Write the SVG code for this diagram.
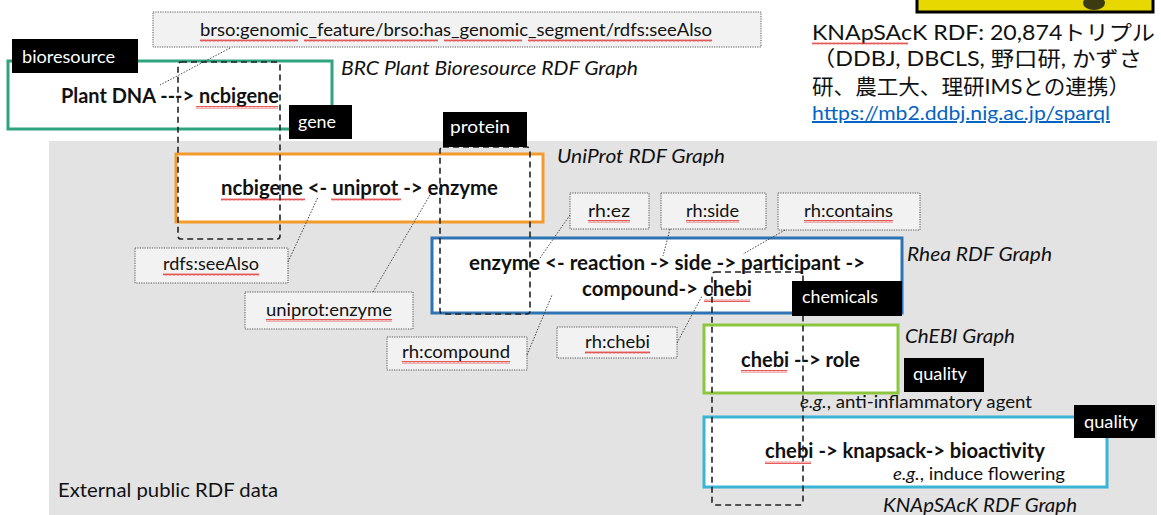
<svg xmlns="http://www.w3.org/2000/svg" width="1161" height="515" viewBox="0 0 1161 515">
<defs>
<pattern id="sq" width="4" height="3" patternUnits="userSpaceOnUse">
<path d="M0 2.5 L1 0.5 L2 2.5 L3 0.5 L4 2.5" fill="none" stroke="#e03030" stroke-width="0.8"/>
</pattern>
</defs>
<style>
text{font-family:Lato,"Open Sans","Noto Sans",sans-serif;fill:#111}
.t{font-size:18px}
.b{font-size:20px;font-weight:bold}
.i{font-size:19px;font-style:italic}
.lab{fill:#000}
.lt{font-size:18px;fill:#fff}
.dot{fill:#f2f2f2;stroke:#555;stroke-width:1;stroke-dasharray:1.2 1.2}
.con{fill:none;stroke:#444;stroke-width:1;stroke-dasharray:1.5 1.5}
.dash{fill:none;stroke:#222;stroke-width:1.6;stroke-dasharray:6 4}
.box{fill:#fff;stroke-width:3}
.sq{fill:url(#sq)}
.cjk{font-family:Lato,"Noto Sans CJK JP",sans-serif;font-size:21px}
</style>
<rect id="bg" x="49" y="141" width="1108" height="374" fill="#e3e3e3"/>
<g id="yellow">
<rect x="917" y="-4" width="236" height="16" fill="#e6d800"/>
<ellipse cx="1094" cy="3" rx="11" ry="7" fill="#3b3a10"/>
<rect x="917" y="-4" width="236" height="16" fill="none" stroke="#000" stroke-width="3"/>
</g>
<g id="info">
<text class="cjk" x="812" y="40" textLength="343" lengthAdjust="spacingAndGlyphs">KNApSAcK RDF: 20,874トリプル</text>
<text class="cjk" x="812" y="66" textLength="330" lengthAdjust="spacingAndGlyphs">（DDBJ, DBCLS, 野口研, かずさ</text>
<text class="cjk" x="812" y="94" textLength="318" lengthAdjust="spacingAndGlyphs">研、農工大、理研IMSとの連携）</text>
<text x="812" y="120" style="font-size:20px;fill:#0563c1;text-decoration:underline" textLength="298" lengthAdjust="spacingAndGlyphs">https://mb2.ddbj.nig.ac.jp/sparql</text>
<rect class="sq" x="812" y="42" width="96" height="3"/>
</g>
<g id="brc">
<rect class="box" x="8" y="61" width="324" height="68" stroke="#2ea37f"/>
<text class="b" x="61" y="103" textLength="218" lengthAdjust="spacingAndGlyphs">Plant DNA ---&gt; ncbigene</text>
<rect class="sq" x="196" y="106" width="82" height="3"/>
<text class="i" x="341" y="75" textLength="297" lengthAdjust="spacingAndGlyphs">BRC Plant Bioresource RDF Graph</text>
</g>
<g id="uniprot">
<rect class="box" x="176" y="154" width="367" height="68" stroke="#f39c2c"/>
<text class="b" x="221" y="195" textLength="277" lengthAdjust="spacingAndGlyphs">ncbigene &lt;- uniprot -&gt; enzyme</text>
<rect class="sq" x="221" y="198" width="84" height="3"/>
<rect class="sq" x="331" y="198" width="70" height="3"/>
<text class="i" x="557" y="163" textLength="168" lengthAdjust="spacingAndGlyphs">UniProt RDF Graph</text>
</g>
<g id="rhea">
<rect class="box" x="432" y="238" width="470" height="75" stroke="#2e74b5"/>
<text class="b" x="469" y="270" textLength="396" lengthAdjust="spacingAndGlyphs">enzyme &lt;- reaction -&gt; side -&gt; participant  -&gt;</text>
<text class="b" x="582" y="296" textLength="170" lengthAdjust="spacingAndGlyphs">compound-&gt; chebi</text>
<rect class="sq" x="704" y="299" width="46" height="3"/>
<text class="i" x="907" y="261" textLength="145" lengthAdjust="spacingAndGlyphs">Rhea RDF Graph</text>
</g>
<g id="chebi">
<rect class="box" x="704" y="325" width="194" height="68" stroke="#8cc63e"/>
<text class="b" x="741" y="367" textLength="119" lengthAdjust="spacingAndGlyphs">chebi --&gt; role</text>
<rect class="sq" x="741" y="370" width="46" height="3"/>
<text class="i" x="905" y="343" textLength="110" lengthAdjust="spacingAndGlyphs">ChEBI Graph</text>
<text class="t" x="800" y="408" textLength="232" lengthAdjust="spacingAndGlyphs"><tspan font-style="italic">e.g.</tspan>, anti-inflammatory agent</text>
</g>
<g id="knapsack">
<rect class="box" x="704" y="417" width="403" height="70" stroke="#3cb4d4"/>
<text class="b" x="765" y="458" textLength="280" lengthAdjust="spacingAndGlyphs">chebi -&gt; knapsack-&gt; bioactivity</text>
<rect class="sq" x="765" y="461" width="46" height="3"/>
<text class="t" x="893" y="480" textLength="172" lengthAdjust="spacingAndGlyphs"><tspan font-style="italic">e.g.</tspan>, induce flowering</text>
<text class="i" x="883" y="512" textLength="194" lengthAdjust="spacingAndGlyphs">KNApSAcK RDF Graph</text>
</g>
<text id="external" x="58" y="497" style="font-size:19px" textLength="220" lengthAdjust="spacingAndGlyphs">External public RDF data</text>
<g id="lbl-brso">
<rect class="dot" x="153" y="12" width="608" height="35"/>
<text class="t" x="200" y="36" textLength="512" lengthAdjust="spacingAndGlyphs">brso:genomic_feature/brso:has_genomic_segment/rdfs:seeAlso</text>
<rect class="sq" x="200" y="39" width="98" height="3"/>
<rect class="sq" x="304" y="39" width="134" height="3"/>
<rect class="sq" x="444" y="39" width="78" height="3"/>
<rect class="sq" x="528" y="39" width="184" height="3"/>
</g>
<g id="lbl-seealso">
<rect class="dot" x="135" y="248" width="153" height="35"/>
<text class="t" x="163" y="270" textLength="96" lengthAdjust="spacingAndGlyphs">rdfs:seeAlso</text>
<rect class="sq" x="163" y="273" width="96" height="3"/>
</g>
<g id="lbl-upenzyme">
<rect class="dot" x="245" y="292" width="168" height="37"/>
<text class="t" x="266" y="316" textLength="126" lengthAdjust="spacingAndGlyphs">uniprot:enzyme</text>
<rect class="sq" x="266" y="319" width="126" height="3"/>
</g>
<g id="lbl-compound">
<rect class="dot" x="387" y="337" width="140" height="33"/>
<text class="t" x="402" y="358" textLength="108" lengthAdjust="spacingAndGlyphs">rh:compound</text>
<rect class="sq" x="402" y="361" width="108" height="3"/>
</g>
<g id="lbl-ez">
<rect class="dot" x="570" y="193" width="79" height="36"/>
<text class="t" x="588" y="217" textLength="42" lengthAdjust="spacingAndGlyphs">rh:ez</text>
<rect class="sq" x="588" y="220" width="42" height="3"/>
</g>
<g id="lbl-side">
<rect class="dot" x="661" y="193" width="105" height="36"/>
<text class="t" x="686" y="217" textLength="53" lengthAdjust="spacingAndGlyphs">rh:side</text>
<rect class="sq" x="686" y="220" width="53" height="3"/>
</g>
<g id="lbl-contains">
<rect class="dot" x="778" y="193" width="142" height="37"/>
<text class="t" x="804" y="217" textLength="89" lengthAdjust="spacingAndGlyphs">rh:contains</text>
<rect class="sq" x="804" y="220" width="89" height="3"/>
</g>
<g id="lbl-rhchebi">
<rect class="dot" x="557" y="327" width="120" height="31"/>
<text class="t" x="585" y="348" textLength="65" lengthAdjust="spacingAndGlyphs">rh:chebi</text>
<rect class="sq" x="585" y="351" width="65" height="3"/>
</g>
<g id="connectors">
<line class="con" x1="230" y1="48" x2="160" y2="85"/>
<line class="con" x1="288" y1="262" x2="318" y2="197"/>
<line class="con" x1="373" y1="292" x2="430" y2="195"/>
<line class="con" x1="527" y1="355" x2="552" y2="295"/>
<line class="con" x1="570" y1="215" x2="540" y2="258"/>
<line class="con" x1="670" y1="229" x2="663" y2="256"/>
<line class="con" x1="785" y1="230" x2="743" y2="254"/>
<line class="con" x1="677" y1="343" x2="702" y2="296"/>
</g>
<g id="groups">
<rect class="dash" x="178" y="62" width="102" height="177" rx="3"/>
<rect class="dash" x="440" y="147" width="90" height="167" rx="3"/>
<rect class="dash" x="712" y="272" width="91" height="233" rx="3"/>
</g>
<g id="tag-bioresource"><rect class="lab" x="12" y="39" width="126" height="34"/><text class="lt" x="22" y="63" textLength="93" lengthAdjust="spacingAndGlyphs">bioresource</text></g>
<g id="tag-gene"><rect class="lab" x="289" y="105" width="63" height="34"/><text class="lt" x="298" y="128" textLength="38" lengthAdjust="spacingAndGlyphs">gene</text></g>
<g id="tag-protein"><rect class="lab" x="443" y="112" width="84" height="35"/><text class="lt" x="450" y="133" textLength="60" lengthAdjust="spacingAndGlyphs">protein</text></g>
<g id="tag-chemicals"><rect class="lab" x="792" y="281" width="110" height="35"/><text class="lt" x="802" y="303" textLength="76" lengthAdjust="spacingAndGlyphs">chemicals</text></g>
<g id="tag-quality1"><rect class="lab" x="904" y="358" width="80" height="34"/><text class="lt" x="913" y="380" textLength="54" lengthAdjust="spacingAndGlyphs">quality</text></g>
<g id="tag-quality2"><rect class="lab" x="1074" y="405" width="81" height="33"/><text class="lt" x="1084" y="428" textLength="54" lengthAdjust="spacingAndGlyphs">quality</text></g>
</svg>
